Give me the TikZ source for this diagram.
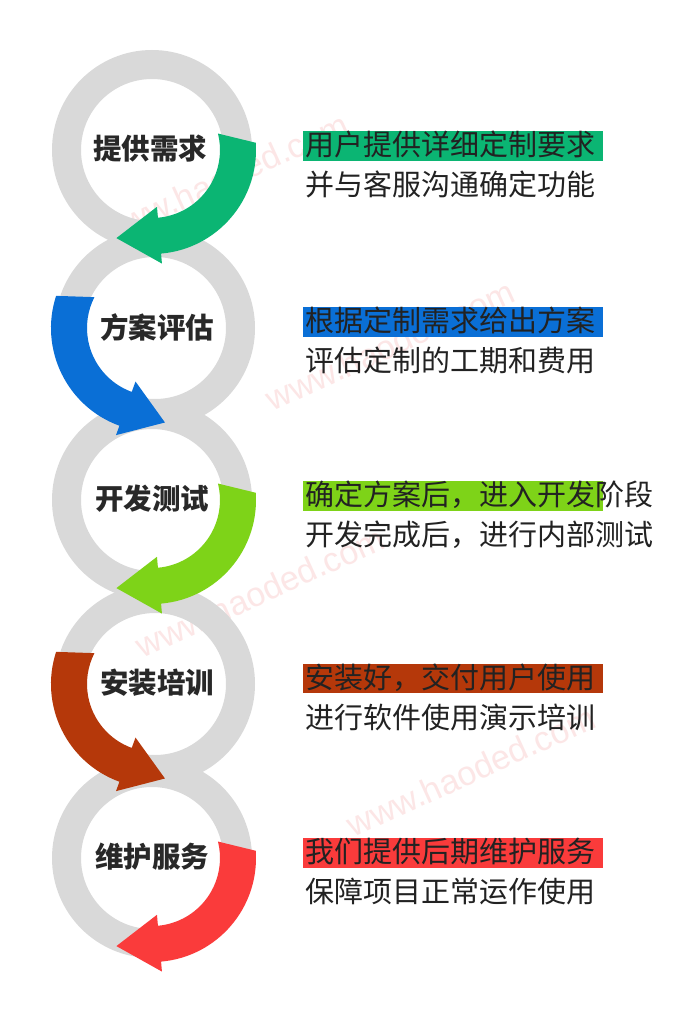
\documentclass[tikz,border=0pt]{standalone}
\usepackage{fontspec}
\usetikzlibrary{calc}
\newfontfamily\cjk{Noto Sans CJK SC}
\newfontfamily\wmfont{Liberation Sans}
\definecolor{ringgray}{RGB}{217,217,217}
\definecolor{cgreen}{RGB}{11,181,115}
\definecolor{cblue}{RGB}{10,111,214}
\definecolor{clime}{RGB}{126,211,24}
\definecolor{cbrown}{RGB}{181,56,10}
\definecolor{cred}{RGB}{250,59,59}
\definecolor{labeltext}{RGB}{40,40,40}
\definecolor{desctext}{RGB}{34,34,34}
\definecolor{wmpink}{RGB}{252,230,230}
% clockwise arrow on the right side of a ring
\newcommand{\cwarr}[2]{%
  \fill[#2] ($(#1)+(4:104)$) arc[start angle=4,end angle=-85,radius=104]
    -- ($(#1)+(-85:114)$) -- ($(#1)+(-112:95)$) -- ($(#1)+(-85:57)$)
    -- ($(#1)+(-85:68)$) arc[start angle=-85,end angle=14,radius=68] -- cycle;}
% counter-clockwise arrow on the left side of a ring
\newcommand{\ccwarr}[2]{%
  \fill[#2] ($(#1)+(162:104)$) arc[start angle=162,end angle=250,radius=104]
    -- ($(#1)+(250:114)$) -- ($(#1)+(276:95)$) -- ($(#1)+(250:57)$)
    -- ($(#1)+(250:68)$) arc[start angle=250,end angle=153,radius=68] -- cycle;}
\begin{document}
\begin{tikzpicture}[x=1pt,y=1pt,
  ringband/.style={fill=ringgray,even odd rule},
  lbl/.style={font=\cjk\bfseries\fontsize{28.5}{30}\selectfont,text=labeltext,inner sep=0,text height=0.82em,text depth=0.08em},
  desc/.style={font=\cjk\fontsize{29}{30}\selectfont,text=desctext,inner sep=0,anchor=west,text height=0.82em,text depth=0.08em},
  wm/.style={font=\wmfont\fontsize{34}{34}\selectfont,text=wmpink,rotate=24.5,inner sep=0}]
\useasboundingbox (0,0) rectangle (700,-1030);
\fill[white] (0,0) rectangle (700,-1030);
% watermark
\node[wm] (wm1) at (224,-178) {www.haoded.com};
\node[wm] (wm2) at (390,-345) {www.haoded.com};
\node[wm] (wm3) at (260,-592) {www.haoded.com};
\node[wm] (wm4) at (471,-771) {www.haoded.com};
% ring centres
\coordinate (c1) at (152,-150);
\coordinate (c2) at (155,-328);
\coordinate (c3) at (152,-500);
\coordinate (c4) at (155,-684);
\coordinate (c5) at (152,-858);
% gray rings
\foreach \c in {c1,c2,c3,c4,c5}{
  \fill[ringband] (\c) circle (100) (\c) circle (71);
}
% coloured arrows
\cwarr{c1}{cgreen}
\ccwarr{c2}{cblue}
\cwarr{c3}{clime}
\ccwarr{c4}{cbrown}
\cwarr{c5}{cred}
% ring labels
\node[lbl] (l1) at (150,-156) {提供需求};
\node[lbl] (l2) at (157,-335) {方案评估};
\node[lbl] (l3) at (152,-506) {开发测试};
\node[lbl] (l4) at (157,-690) {安装培训};
\node[lbl] (l5) at (152,-864) {维护服务};
% highlight bars
\fill[cgreen] (303,-131) rectangle (603,-161);
\fill[cblue]  (303,-307) rectangle (603,-337);
\fill[clime]  (303,-481) rectangle (603,-511);
\fill[cbrown] (303,-664) rectangle (603,-693);
\fill[cred]   (303,-838) rectangle (603,-868);
% descriptions
\node[desc] (d1a) at (305,-152) {用户提供详细定制要求};
\node[desc] (d1b) at (305,-192) {并与客服沟通确定功能};
\node[desc] (d2a) at (305,-328) {根据定制需求给出方案};
\node[desc] (d2b) at (305,-368) {评估定制的工期和费用};
\node[desc] (d3a) at (305,-502) {确定方案后，进入开发阶段};
\node[desc] (d3b) at (305,-542) {开发完成后，进行内部测试};
\node[desc] (d4a) at (305,-685) {安装好，交付用户使用};
\node[desc] (d4b) at (305,-725) {进行软件使用演示培训};
\node[desc] (d5a) at (305,-859) {我们提供后期维护服务};
\node[desc] (d5b) at (305,-899) {保障项目正常运作使用};
\end{tikzpicture}
\end{document}
